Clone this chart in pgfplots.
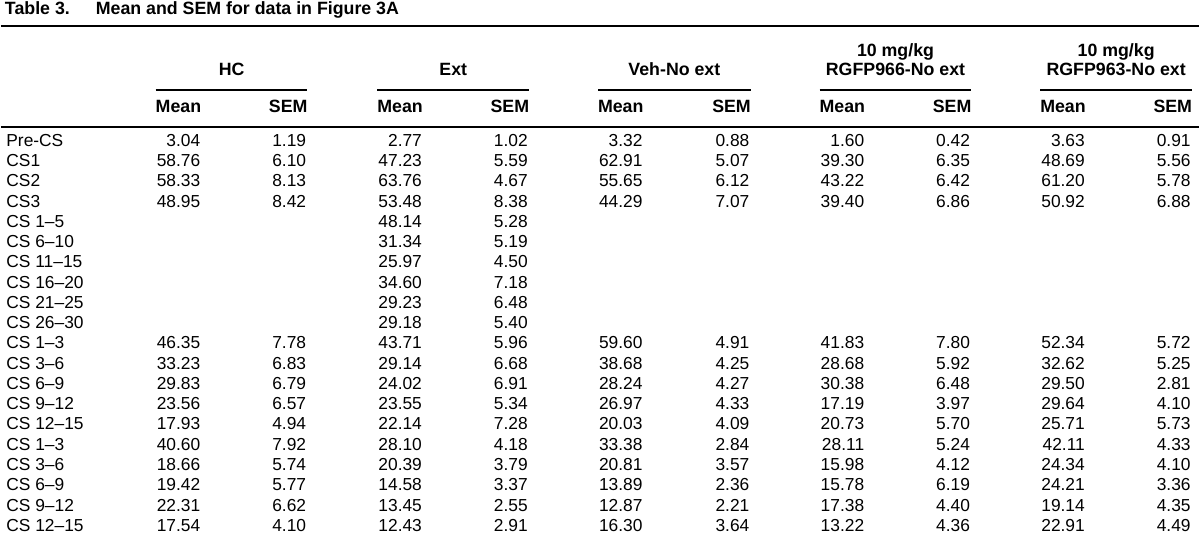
\documentclass[border=0pt]{standalone}
\usepackage{fontspec}
\setmainfont{Liberation Sans}
\usepackage{pgfplots}
\usepackage{pgfplotstable}
\pgfplotsset{compat=1.18}

\newcommand\datafont{\fontsize{8.7}{10}\selectfont}
\newcommand\headfont{\fontsize{8.9}{10}\selectfont\bfseries}

% row index, label
\pgfplotstableread[col sep=comma]{
row,label
0,Pre-CS
1,CS1
2,CS2
3,CS3
4,CS 1–5
5,CS 6–10
6,CS 11–15
7,CS 16–20
8,CS 21–25
9,CS 26–30
10,CS 1–3
11,CS 3–6
12,CS 6–9
13,CS 9–12
14,CS 12–15
15,CS 1–3
16,CS 3–6
17,CS 6–9
18,CS 9–12
19,CS 12–15
}\rows

\pgfplotstableread{
row mean sem
0 3.04 1.19
1 58.76 6.10
2 58.33 8.13
3 48.95 8.42
10 46.35 7.78
11 33.23 6.83
12 29.83 6.79
13 23.56 6.57
14 17.93 4.94
15 40.60 7.92
16 18.66 5.74
17 19.42 5.77
18 22.31 6.62
19 17.54 4.10
}\hc

\pgfplotstableread{
row mean sem
0 2.77 1.02
1 47.23 5.59
2 63.76 4.67
3 53.48 8.38
4 48.14 5.28
5 31.34 5.19
6 25.97 4.50
7 34.60 7.18
8 29.23 6.48
9 29.18 5.40
10 43.71 5.96
11 29.14 6.68
12 24.02 6.91
13 23.55 5.34
14 22.14 7.28
15 28.10 4.18
16 20.39 3.79
17 14.58 3.37
18 13.45 2.55
19 12.43 2.91
}\ext

\pgfplotstableread{
row mean sem
0 3.32 0.88
1 62.91 5.07
2 55.65 6.12
3 44.29 7.07
10 59.60 4.91
11 38.68 4.25
12 28.24 4.27
13 26.97 4.33
14 20.03 4.09
15 33.38 2.84
16 20.81 3.57
17 13.89 2.36
18 12.87 2.21
19 16.30 3.64
}\veh

\pgfplotstableread{
row mean sem
0 1.60 0.42
1 39.30 6.35
2 43.22 6.42
3 39.40 6.86
10 41.83 7.80
11 28.68 5.92
12 30.38 6.48
13 17.19 3.97
14 20.73 5.70
15 28.11 5.24
16 15.98 4.12
17 15.78 6.19
18 17.38 4.40
19 13.22 4.36
}\rgfpa

\pgfplotstableread{
row mean sem
0 3.63 0.91
1 48.69 5.56
2 61.20 5.78
3 50.92 6.88
10 52.34 5.72
11 32.62 5.25
12 29.50 2.81
13 29.64 4.10
14 25.71 5.73
15 42.11 4.33
16 24.34 4.10
17 24.21 3.36
18 19.14 4.35
19 22.91 4.49
}\rgfpb

\pgfplotsset{
  cell/.style={only marks, mark=none, nodes near coords, point meta=explicit symbolic,
    every node near coord/.style={anchor=base east, inner sep=0pt, font=\datafont, text=black}},
  rule/.style={black, line width=1pt, mark=none},
  subrule/.style={black, line width=0.7pt, mark=none},
}
\tikzset{hd/.style={font=\headfont, inner sep=0pt, outer sep=0pt}}

\begin{document}
\begin{tikzpicture}
\begin{axis}[
  width=600pt, height=270pt, scale only axis,
  xmin=0, xmax=1200, ymin=0, ymax=540, y dir=reverse,
  hide axis, clip=false,
]
\addplot[draw=none] coordinates {(0,0) (1200,540)};

% title and rules
\node[hd, anchor=base west] at (axis cs:4,15) {Table 3.};
\node[hd, anchor=base west] at (axis cs:95,15) {Mean and SEM for data in Figure 3A};
\addplot[rule] coordinates {(0,26) (1200,26)};
\addplot[rule] coordinates {(0,127) (1200,127)};

% group headers
\node[hd, anchor=base] at (axis cs:231,76) {HC};
\node[hd, anchor=base] at (axis cs:453,76) {Ext};
\node[hd, anchor=base] at (axis cs:674.5,76) {Veh-No ext};
\node[hd, anchor=base] at (axis cs:896,57) {10 mg/kg};
\node[hd, anchor=base] at (axis cs:896,76) {RGFP966-No ext};
\node[hd, anchor=base] at (axis cs:1117,57) {10 mg/kg};
\node[hd, anchor=base] at (axis cs:1117,76) {RGFP963-No ext};

\addplot[subrule] coordinates {(155,90) (307,90)};
\addplot[subrule] coordinates {(377,90) (529,90)};
\addplot[subrule] coordinates {(598,90) (751,90)};
\addplot[subrule] coordinates {(820,90) (972,90)};
\addplot[subrule] coordinates {(1041,90) (1193,90)};

\node[hd, anchor=base west] at (axis cs:155,113) {Mean};
\node[hd, anchor=base east] at (axis cs:307,113) {SEM};
\node[hd, anchor=base west] at (axis cs:377,113) {Mean};
\node[hd, anchor=base east] at (axis cs:529,113) {SEM};
\node[hd, anchor=base west] at (axis cs:598,113) {Mean};
\node[hd, anchor=base east] at (axis cs:751,113) {SEM};
\node[hd, anchor=base west] at (axis cs:820,113) {Mean};
\node[hd, anchor=base east] at (axis cs:972,113) {SEM};
\node[hd, anchor=base west] at (axis cs:1041,113) {Mean};
\node[hd, anchor=base east] at (axis cs:1193,113) {SEM};

% row labels
\addplot[cell, every node near coord/.append style={anchor=base west}]
  table[x expr=5, y expr=146.5+20.3*\thisrow{row}, meta=label] {\rows};

% values
\addplot[cell] table[x expr=200, y expr=146.5+20.3*\thisrow{row}, meta=mean] {\hc};
\addplot[cell] table[x expr=306, y expr=146.5+20.3*\thisrow{row}, meta=sem] {\hc};
\addplot[cell] table[x expr=422, y expr=146.5+20.3*\thisrow{row}, meta=mean] {\ext};
\addplot[cell] table[x expr=528, y expr=146.5+20.3*\thisrow{row}, meta=sem] {\ext};
\addplot[cell] table[x expr=643, y expr=146.5+20.3*\thisrow{row}, meta=mean] {\veh};
\addplot[cell] table[x expr=750, y expr=146.5+20.3*\thisrow{row}, meta=sem] {\veh};
\addplot[cell] table[x expr=865, y expr=146.5+20.3*\thisrow{row}, meta=mean] {\rgfpa};
\addplot[cell] table[x expr=971, y expr=146.5+20.3*\thisrow{row}, meta=sem] {\rgfpa};
\addplot[cell] table[x expr=1086, y expr=146.5+20.3*\thisrow{row}, meta=mean] {\rgfpb};
\addplot[cell] table[x expr=1192, y expr=146.5+20.3*\thisrow{row}, meta=sem] {\rgfpb};
\end{axis}
\end{tikzpicture}
\end{document}
